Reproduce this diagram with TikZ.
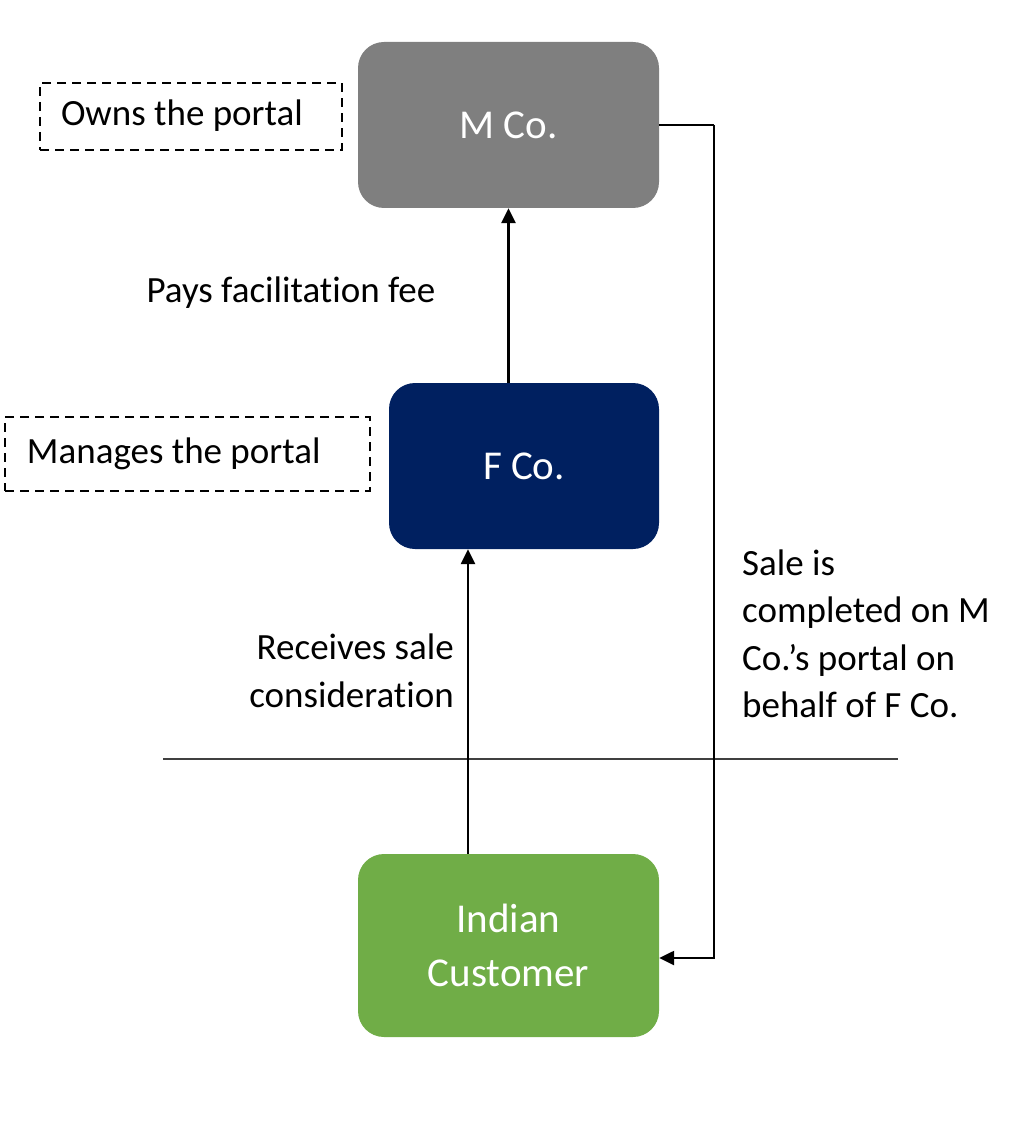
\documentclass[tikz,border=0pt]{standalone}
\usepackage{fontspec}
\setmainfont{Carlito}[Ligatures=NoCommon]
\usetikzlibrary{arrows.meta}
\definecolor{mgray}{HTML}{7F7F7F}
\definecolor{fnavy}{HTML}{002060}
\definecolor{cgreen}{HTML}{70AD47}
\definecolor{rule}{HTML}{404040}
% keeps t and i as separate glyphs
\newcommand\nolig{\kern0pt{}}
\tikzset{
  entity/.style={rounded corners=26pt, text=white, inner sep=0pt,
    font=\fontsize{41}{54}\selectfont, align=center},
  note/.style={draw=black, line width=2.6pt, dash pattern=on 9pt off 6pt,
    inner ysep=0pt, font=\fontsize{37}{47}\selectfont, align=flush left,
    text height=26pt, text depth=8pt},
  label/.style={inner sep=0pt, font=\fontsize{37}{47.5}\selectfont},
  arr/.style={line width=2.5pt, -{Triangle[length=15pt,width=14pt]}},
  link/.style={line width=2.5pt}
}
\begin{document}
\begin{tikzpicture}[x=1pt,y=-1pt]
\useasboundingbox (0,0) rectangle (1022,1139);

% company boxes
\node[entity, fill=mgray, minimum width=301pt, minimum height=166pt] (m) at (508.5,125) {M Co.};
\node[entity, fill=fnavy, minimum width=270pt, minimum height=166pt] (f) at (524,466) {F Co.};
\node[entity, fill=cgreen, minimum width=301pt, minimum height=183pt] (c) at (508.5,945.5) {Indian\\Customer};

% role notes
\node[note, inner xsep=21pt, text width=260pt, minimum height=67pt] (own) at (191,116.5) {Owns the portal};
\node[note, inner xsep=22pt, text width=321pt, minimum height=74pt] (mng) at (187.5,454) {Manages the portal};

% divider between parties
\coordinate (dl) at (163,759);
\coordinate (dr) at (898,759);
\draw[rule, line width=2pt] (dl) -- (dr);

% flows
\coordinate (px) at (468,0);
\draw[arr] (f.north -| m.south) -- (m.south);
\draw[arr] (c.north -| px) -- (f.south -| px);
\draw[link] (m.east) -- ++(55,0) coordinate (mr);
\draw[arr] (mr) |- ([yshift=-12.5pt]c.east);

% flow labels
\node[label] (lpay) at (291,293) {Pays facilitat\nolig ion fee};
\node[label, anchor=east, align=right] (lrec) at (454,671) {Receives sale\\considerat\nolig ion};
\node[label, anchor=west, align=left] (lsale) at (742,634) {Sale is\\completed on M\\Co.’s portal on\\behalf of F Co.};
\end{tikzpicture}
\end{document}
